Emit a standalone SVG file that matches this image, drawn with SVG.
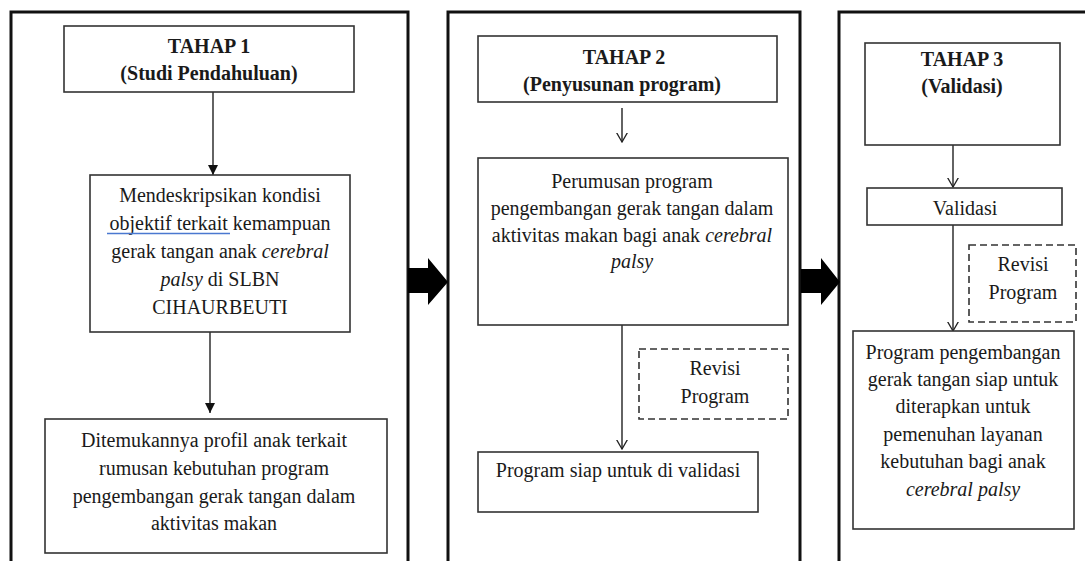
<svg xmlns="http://www.w3.org/2000/svg" width="1085" height="561" viewBox="0 0 1085 561">
<style>
.panel{fill:none;stroke:#111;stroke-width:3}
.box{fill:#fff;stroke:#333;stroke-width:1.6}
.dash{fill:#fff;stroke:#333;stroke-width:1.6;stroke-dasharray:7 4}
.t{font-family:"Liberation Serif","Times New Roman",serif;font-size:20px;fill:#1a1a1a;text-anchor:middle}
.b{font-weight:bold}
.i{font-style:italic}
.c{stroke:#222;stroke-width:1.4;fill:none}
.big{fill:#000}
</style>
<defs>
<marker id="filled" viewBox="0 0 10 10" refX="10" refY="5" markerWidth="10" markerHeight="10" markerUnits="userSpaceOnUse" orient="auto"><path d="M0,0 L10,5 L0,10 z" fill="#111"/></marker>
<marker id="open" viewBox="0 0 10 12" refX="9.5" refY="6" markerWidth="10" markerHeight="12" markerUnits="userSpaceOnUse" orient="auto"><path d="M0,0.5 L9.5,6 L0,11.5" fill="none" stroke="#222" stroke-width="1.3"/></marker>
</defs>

<g id="panel1">
<path class="panel" d="M11,561 V12 H408 V561"/>
</g>
<g id="panel2">
<path class="panel" d="M448,561 V12 H800 V561"/>
</g>
<g id="panel3">
<path class="panel" d="M839,561 V12 H1085"/>
</g>

<g id="connectors">
<line class="c" x1="213" y1="92" x2="213" y2="175" marker-end="url(#filled)"/>
<line class="c" x1="210" y1="332" x2="210" y2="413" marker-end="url(#filled)"/>
<line class="c" x1="622" y1="108" x2="622" y2="142" marker-end="url(#open)"/>
<line class="c" x1="622" y1="325" x2="622" y2="449" marker-end="url(#open)"/>
<line class="c" x1="953" y1="145" x2="953" y2="187" marker-end="url(#open)"/>
<line class="c" x1="953" y1="225" x2="953" y2="331" marker-end="url(#open)"/>
<polygon class="big" points="408,268 428,268 428,258 448,282 428,305 428,293 408,293"/>
<polygon class="big" points="801,269 821,269 821,258 840,282 821,305 821,293 801,293"/>
</g>

<g id="tahap1">
<rect class="box" x="64" y="26" width="290" height="66"/>
<text class="t b" x="209" y="53">TAHAP 1</text>
<text class="t b" x="209" y="80">(Studi Pendahuluan)</text>
</g>
<g id="deskripsi">
<rect class="box" x="90" y="175" width="260" height="157"/>
<text class="t" x="220" y="202">Mendeskripsikan kondisi</text>
<text class="t" x="220" y="230">objektif  terkait kemampuan</text>
<line x1="107" y1="233.5" x2="230" y2="233.5" stroke="#4a78d0" stroke-width="1.6"/>
<text class="t" x="220" y="258">gerak tangan anak <tspan class="i">cerebral</tspan></text>
<text class="t" x="220" y="286"><tspan class="i">palsy</tspan> di SLBN</text>
<text class="t" x="220" y="314">CIHAURBEUTI</text>
</g>
<g id="profil">
<rect class="box" x="45" y="419" width="342" height="134"/>
<text class="t" x="214" y="447">Ditemukannya profil anak terkait</text>
<text class="t" x="214" y="475">rumusan kebutuhan program</text>
<text class="t" x="214" y="503">pengembangan gerak tangan dalam</text>
<text class="t" x="214" y="530">aktivitas makan</text>
</g>

<g id="tahap2">
<rect class="box" x="478" y="36" width="299" height="66"/>
<text class="t b" x="624" y="64">TAHAP 2</text>
<text class="t b" x="622" y="91">(Penyusunan program)</text>
</g>
<g id="perumusan">
<rect class="box" x="478" y="158" width="310" height="167"/>
<text class="t" x="632" y="188">Perumusan program</text>
<text class="t" x="632" y="215">pengembangan gerak tangan dalam</text>
<text class="t" x="632" y="242">aktivitas makan bagi anak <tspan class="i">cerebral</tspan></text>
<text class="t i" x="632" y="268">palsy</text>
</g>
<g id="revisi2">
<rect class="dash" x="639" y="349" width="149" height="70"/>
<text class="t" x="715" y="375">Revisi</text>
<text class="t" x="715" y="403">Program</text>
</g>
<g id="siap">
<rect class="box" x="478" y="452" width="280" height="60"/>
<text class="t" x="618" y="477">Program siap untuk di validasi</text>
</g>

<g id="tahap3">
<rect class="box" x="865" y="43" width="195" height="102"/>
<text class="t b" x="962" y="66">TAHAP 3</text>
<text class="t b" x="962" y="93">(Validasi)</text>
</g>
<g id="validasi">
<rect class="box" x="867" y="188" width="195" height="37"/>
<text class="t" x="965" y="215">Validasi</text>
</g>
<g id="revisi3">
<rect class="dash" x="969" y="245" width="107" height="77"/>
<text class="t" x="1023" y="271">Revisi</text>
<text class="t" x="1023" y="299">Program</text>
</g>
<g id="final">
<rect class="box" x="853" y="331" width="221" height="198"/>
<text class="t" x="963" y="359">Program pengembangan</text>
<text class="t" x="963" y="386">gerak tangan siap untuk</text>
<text class="t" x="963" y="413">diterapkan untuk</text>
<text class="t" x="963" y="441">pemenuhan layanan</text>
<text class="t" x="963" y="468">kebutuhan bagi anak</text>
<text class="t i" x="963" y="496">cerebral palsy</text>
</g>
</svg>
